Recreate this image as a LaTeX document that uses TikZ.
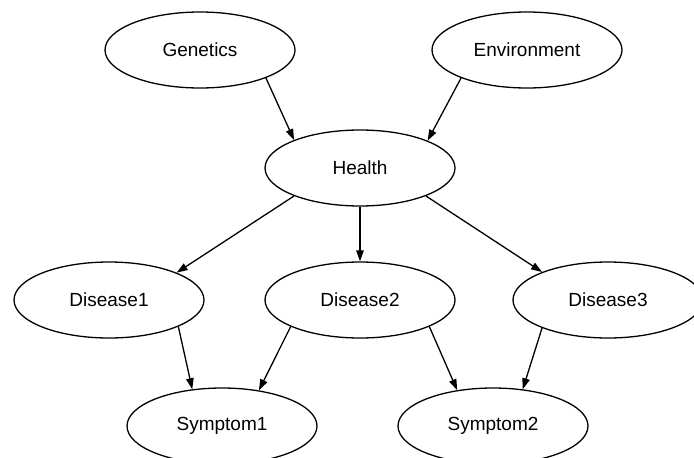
\documentclass[tikz,border=0pt]{standalone}
\usepackage{fontspec}
\setmainfont{Liberation Sans}
\usetikzlibrary{shapes.geometric,arrows.meta}
\begin{document}
\begin{tikzpicture}[x=1pt,y=-1pt,
  var/.style={draw,ellipse,line width=1.3pt,minimum width=190pt,minimum height=76pt,inner sep=0pt,
    font=\fontsize{19}{23}\selectfont},
  edge/.style={line width=1.3pt,-{Triangle[length=11pt,width=7.5pt]}}]
\clip (0,0) rectangle (694,458);
\fill[white] (0,0) rectangle (694,458);
% variables
\node[var] (gen) at (200,50) {Genetics};
\node[var] (env) at (527,50) {Environment};
\node[var] (health) at (360,168) {Health};
\node[var] (dis1) at (109,300) {Disease1};
\node[var] (dis2) at (360,300) {Disease2};
\node[var] (dis3) at (608,300) {Disease3};
\node[var] (sym1) at (222,426) {Symptom1};
\node[var] (sym2) at (493,426) {Symptom2};
% dependencies
\foreach \a/\b in {gen.-23/health.157, env.-157/health.22,
                   health.-157/dis1.22, health.south/dis2.north, health.-23/dis3.157,
                   dis1.-21/sym1.129, dis2.-159/sym1.44, dis2.-21/sym2.135, dis3.-157/sym2.51} {
  \draw[edge] (\a) -- (\b);
}
\end{tikzpicture}
\end{document}
